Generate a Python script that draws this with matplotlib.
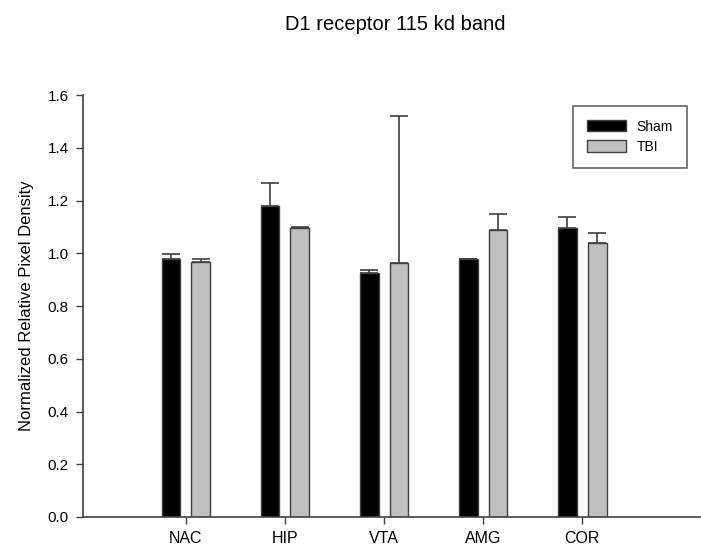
import numpy as np
import matplotlib.pyplot as plt

plt.rcParams['font.family'] = ['Liberation Sans', 'DejaVu Sans']

regions = ['NAC', 'HIP', 'VTA', 'AMG', 'COR']
sham = [0.977, 1.178, 0.924, 0.978, 1.095]
sham_err = [0.019, 0.087, 0.012, 0.0, 0.043]
tbi = [0.966, 1.095, 0.964, 1.088, 1.040]
tbi_err = [0.012, 0.006, 0.556, 0.063, 0.038]

x = np.arange(len(regions))
w = 0.19
off = 0.15

fig = plt.figure(figsize=(7.01, 5.5), dpi=100)
ax = fig.add_axes([0.118, 0.06, 0.881, 0.767])

ekw = dict(ecolor='#404040', elinewidth=1.2, capsize=6.5, capthick=1.2)
ax.bar(x - off, sham, w, color='black', edgecolor='#404040', lw=1,
       yerr=[np.zeros(len(x)), sham_err], error_kw=ekw, label='Sham')
ax.bar(x + off, tbi, w, color='#c0c0c0', edgecolor='#404040', lw=1,
       yerr=[np.zeros(len(x)), tbi_err], error_kw=ekw, label='TBI')

ax.set_xlim(-1.04, 5.19)
ax.set_ylim(0, 1.6)
ax.set_xticks(x)
ax.set_xticklabels(regions, fontsize=11.5)
ax.set_yticks(np.arange(0, 1.61, 0.2))
ax.set_yticklabels(['%.1f' % v for v in np.arange(0, 1.61, 0.2)], fontsize=11)
ax.tick_params(direction='out', length=5, width=1, color='#404040', pad=5)
for s in ['top', 'right']:
    ax.spines[s].set_visible(False)
for s in ['left', 'bottom']:
    ax.spines[s].set_color('#404040')
    ax.spines[s].set_linewidth(1.2)
ax.set_ylabel('Normalized Relative Pixel Density', fontsize=12, labelpad=10)

leg = ax.legend(loc='upper right', bbox_to_anchor=(0.978, 0.975), borderaxespad=0,
                fancybox=False, edgecolor='#404040', fontsize=10, borderpad=1.0,
                handlelength=2.8, handleheight=0.85, labelspacing=0.45, handletextpad=0.75)
leg.get_frame().set_linewidth(1.2)

fig.text(0.564, 0.955, 'D1 receptor 115 kd band', ha='center', va='center', fontsize=14.5)

plt.savefig('out.png', dpi=100)
plt.close()
